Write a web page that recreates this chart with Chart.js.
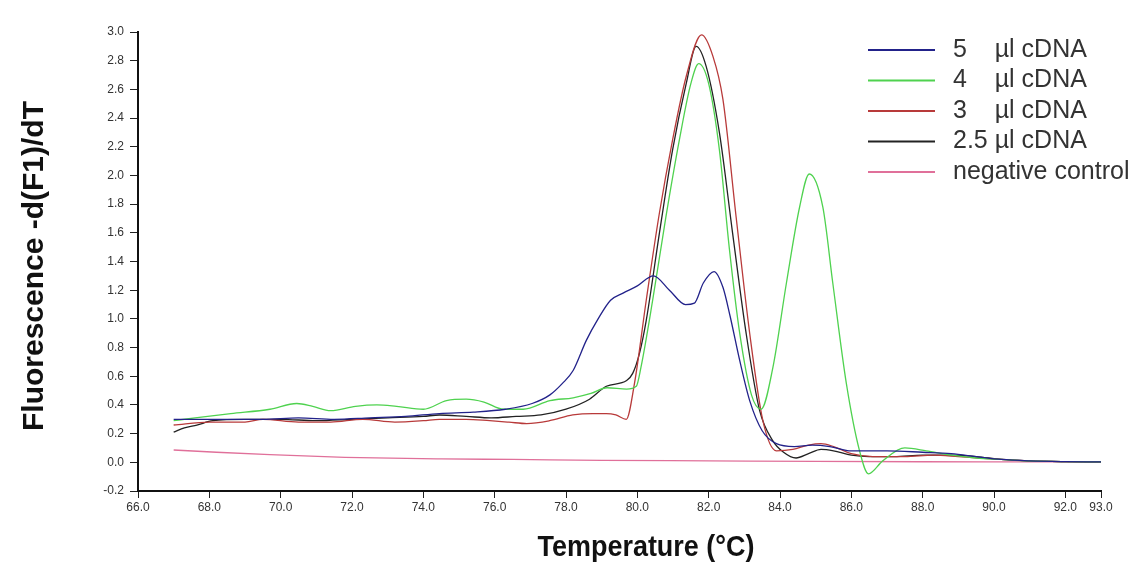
<!DOCTYPE html>
<html>
<head>
<meta charset="utf-8">
<script src="https://cdn.jsdelivr.net/npm/chart.js@4.4.0/dist/chart.umd.min.js"></script>
<style>
  html, body { margin: 0; padding: 0; background: #fff; }
  #wrap { width: 1139px; height: 572px; }
</style>
</head>
<body>
<div id="wrap"><canvas id="c"></canvas></div>
<script>
const xTicks = [66, 68, 70, 72, 74, 76, 78, 80, 82, 84, 86, 88, 90, 92, 93];

const labels = ['5\u00a0\u00a0\u00a0\u00a0µl cDNA', '4\u00a0\u00a0\u00a0\u00a0µl cDNA', '3\u00a0\u00a0\u00a0\u00a0µl cDNA', '2.5 µl cDNA', 'negative control'];
const colors = ['#22228a', '#4fd24f', '#b83a3a', '#222222', '#e0709a'];

const blueT = [67, 67.6, 68.5, 69.5, 70.5, 71.5, 72.5, 73.5, 74.45, 75.4, 76.3, 77.05, 77.55, 77.9, 78.2, 78.57, 78.9, 79.25, 79.6, 80.0, 80.45, 80.9, 81.35, 81.6, 81.85, 82.15, 82.4, 82.6, 82.87, 83.15, 83.5, 83.9, 84.4, 84.9, 85.4, 86.0, 87.0, 88.0, 88.8, 89.5, 90.2, 91, 92, 93];
const blueV = [0.30, 0.30, 0.30, 0.30, 0.31, 0.30, 0.31, 0.32, 0.34, 0.35, 0.37, 0.41, 0.47, 0.55, 0.64, 0.85, 1.0, 1.13, 1.18, 1.23, 1.30, 1.20, 1.10, 1.11, 1.25, 1.33, 1.22, 1.02, 0.71, 0.43, 0.22, 0.13, 0.11, 0.12, 0.11, 0.08, 0.08, 0.07, 0.06, 0.04, 0.02, 0.01, 0.005, 0.003];

const greenT = [67, 67.6, 68.6, 69.7, 70.45, 70.9, 71.4, 72.1, 72.7, 73.25, 74.0, 74.65, 75.2, 75.7, 76.25, 76.8, 77.55, 78.2, 78.7, 79.15, 79.7, 79.97, 80.1, 80.43, 80.8, 81.18, 81.5, 81.72, 82.0, 82.3, 82.58, 82.87, 83.2, 83.47, 83.8, 84.18, 84.55, 84.82, 85.2, 85.48, 85.86, 86.23, 86.48, 86.88, 87.5, 88.1, 88.8, 89.5, 90.2, 91, 92, 93];
const greenV = [0.29, 0.31, 0.34, 0.37, 0.41, 0.39, 0.36, 0.39, 0.40, 0.39, 0.37, 0.43, 0.44, 0.42, 0.37, 0.37, 0.43, 0.45, 0.48, 0.52, 0.51, 0.53, 0.66, 1.13, 1.71, 2.25, 2.64, 2.78, 2.64, 2.18, 1.49, 0.90, 0.47, 0.37, 0.66, 1.25, 1.78, 2.01, 1.78, 1.25, 0.55, 0.08, -0.08, 0.01, 0.10, 0.08, 0.05, 0.03, 0.02, 0.01, 0.005, 0.003];

const redT = [67, 68, 69, 69.5, 70.5, 71.4, 72.3, 73.2, 74.0, 74.45, 75.2, 75.86, 76.4, 76.9, 77.54, 78.19, 78.75, 79.13, 79.4, 79.69, 79.92, 80.25, 80.62, 80.99, 81.37, 81.8, 82.12, 82.4, 82.77, 83.15, 83.52, 83.9, 84.36, 84.8, 85.15, 85.5, 86.0, 86.6, 87.5, 88.3, 89.0, 89.6, 90.2, 91, 92, 93];
const redV = [0.26, 0.28, 0.28, 0.30, 0.28, 0.28, 0.30, 0.28, 0.29, 0.30, 0.30, 0.29, 0.28, 0.27, 0.29, 0.33, 0.34, 0.34, 0.33, 0.30, 0.55, 1.13, 1.74, 2.25, 2.69, 2.98, 2.83, 2.53, 1.71, 0.90, 0.29, 0.08, 0.09, 0.12, 0.13, 0.11, 0.06, 0.04, 0.04, 0.05, 0.04, 0.03, 0.02, 0.01, 0.005, 0.003];

const blackT = [67, 67.3, 67.65, 68.1, 69, 70, 71, 72, 73, 74, 74.45, 75.2, 75.9, 76.6, 77.3, 78.0, 78.66, 79.13, 79.7, 79.87, 80.06, 80.25, 80.62, 80.99, 81.37, 81.65, 81.93, 82.3, 82.67, 83.05, 83.43, 83.8, 84.1, 84.45, 84.8, 85.15, 85.5, 86.0, 86.5, 87.2, 88.0, 88.8, 89.5, 90.2, 91, 92, 93];
const blackV = [0.21, 0.24, 0.26, 0.29, 0.30, 0.30, 0.29, 0.30, 0.31, 0.32, 0.33, 0.32, 0.31, 0.32, 0.33, 0.37, 0.44, 0.53, 0.57, 0.62, 0.76, 0.99, 1.60, 2.18, 2.64, 2.90, 2.76, 2.30, 1.60, 0.90, 0.36, 0.15, 0.07, 0.03, 0.06, 0.09, 0.08, 0.05, 0.04, 0.04, 0.05, 0.05, 0.04, 0.02, 0.01, 0.005, 0.003];

const pinkT = [67, 68.2, 69.7, 71.8, 74.5, 76.5, 79, 82, 85, 88, 93];
const pinkV = [0.086, 0.07, 0.053, 0.035, 0.024, 0.02, 0.014, 0.01, 0.006, 0.004, 0.003];

const series = [[blueT, blueV], [greenT, greenV], [redT, redV], [blackT, blackV], [pinkT, pinkV]];

const FONT = '"Liberation Sans", Arial, sans-serif';

// titres des axes + légende dessinés à la main
const decor = {
    id: 'decor',
    afterDraw(chart) {
        const c = chart.ctx;
        c.save();
        c.fillStyle = '#111';
        c.textAlign = 'center';
        c.textBaseline = 'middle';
        c.font = 'bold 30px ' + FONT;
        c.translate(35, 266);
        c.rotate(-Math.PI / 2);
        c.fillText('Fluorescence -d(F1)/dT', 0, 0);
        c.restore();

        // titre X en police étroite
        c.save();
        c.fillStyle = '#111';
        c.textAlign = 'center';
        c.textBaseline = 'middle';
        c.font = 'bold 29px ' + FONT;
        const txt = 'Temperature (°C)';
        const w = c.measureText(txt).width;
        c.translate(646, 548);
        c.scale(217 / w, 1);
        c.fillText(txt, 0, 0);
        c.restore();

        c.save();
        c.font = '25px ' + FONT;
        c.textBaseline = 'middle';
        chart.data.datasets.forEach((ds, i) => {
            const y = 50 + i * 30.5;
            c.strokeStyle = ds.borderColor;
            c.lineWidth = 2;
            c.beginPath();
            c.moveTo(868, y);
            c.lineTo(935, y);
            c.stroke();
            c.fillStyle = '#333';
            c.fillText(ds.label, 953, y);
        });
        c.restore();
    }
};

new Chart(document.getElementById('c'), {
    type: 'line',
    data: {
        datasets: series.map((s, i) => ({
            label: labels[i],
            data: s[0].map((t, k) => ({ x: t, y: s[1][k] })),
            borderColor: colors[i],
            borderWidth: 1.3,
            pointRadius: 0,
            fill: false,
            cubicInterpolationMode: 'monotone'
        }))
    },
    options: {
        responsive: true,
        maintainAspectRatio: false,
        animation: false,
        devicePixelRatio: 1,
        layout: { padding: { top: 32, right: 38, left: 0, bottom: 0 } },
        plugins: { legend: { display: false }, tooltip: { enabled: false } },
        scales: {
            x: {
                type: 'linear',
                min: 66,
                max: 93,
                afterBuildTicks: s => { s.ticks = xTicks.map(v => ({ value: v })); },
                afterFit: s => { s.height = 81; },
                ticks: {
                    autoSkip: false, maxRotation: 0, padding: 2,
                    color: '#333', font: { size: 12, family: FONT },
                    callback: v => Number(v).toFixed(1)
                },
                grid: { drawOnChartArea: false, tickLength: 7, color: '#222' },
                border: { color: '#111', width: 2 }
            },
            y: {
                min: -0.2,
                max: 3.0,
                afterFit: s => { s.width = 138; },
                ticks: {
                    stepSize: 0.2, padding: 6,
                    color: '#333', font: { size: 12, family: FONT },
                    callback: v => Number(v).toFixed(1)
                },
                grid: { drawOnChartArea: false, tickLength: 8, color: '#222' },
                border: { color: '#111', width: 2 }
            }
        }
    },
    plugins: [decor]
});
</script>
</body>
</html>
